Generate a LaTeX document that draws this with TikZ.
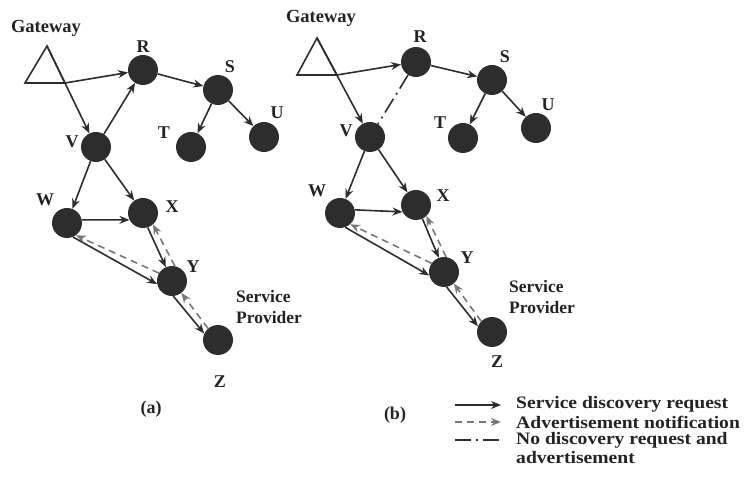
\documentclass[tikz,border=0pt]{standalone}
\usepackage{fontspec}
\setmainfont{Liberation Serif}
\newfontfamily\legfont[FakeStretch=1.12]{Liberation Serif}
\usetikzlibrary{arrows.meta}
\definecolor{nodegray}{RGB}{45,45,45}
\definecolor{linegray}{RGB}{45,45,45}
\definecolor{dashgray}{RGB}{120,120,120}
\definecolor{labelgray}{RGB}{35,35,35}
\begin{document}
\begin{tikzpicture}[x=1pt,y=-1pt,
  vtx/.style={circle,fill=nodegray,minimum size=30pt,inner sep=0pt},
  lbl/.style={font=\bfseries\fontsize{18}{20}\selectfont,text=labelgray,inner sep=0pt},
  leg/.style={font=\legfont\bfseries\fontsize{17.5}{18}\selectfont,text=labelgray,inner sep=0pt,anchor=west},
  req/.style={draw=linegray,line width=1.6pt,-{Stealth[length=10pt,width=8pt]}},
  adv/.style={draw=dashgray,line width=1.6pt,dash pattern=on 7pt off 5pt,-{Stealth[length=10pt,width=8pt]}},
  nodisc/.style={draw=linegray,line width=1.6pt,dash pattern=on 16pt off 5pt on 2pt off 5pt},
  gw/.style={draw=linegray,line width=1.6pt,line join=miter},
]
\useasboundingbox (0,0) rectangle (745,486);

% ---------------- panel (a) ----------------
\coordinate (ga1) at (47,46);
\coordinate (gl1) at (25,83);
\coordinate (gr1) at (65,83);
\draw[gw] (ga1) -- (gl1) -- (gr1) -- cycle;
\node[vtx] (R1) at (143,70) {};
\node[vtx] (S1) at (218,90) {};
\node[vtx] (T1) at (191,147) {};
\node[vtx] (U1) at (264,137) {};
\node[vtx] (V1) at (96,147) {};
\node[vtx] (W1) at (67,223) {};
\node[vtx] (X1) at (143,213) {};
\node[vtx] (Y1) at (172,281) {};
\node[vtx] (Z1) at (218,340) {};

\node[lbl,font=\bfseries\fontsize{18.5}{20}\selectfont] (gwa) at (46,28) {Gateway};
\node[lbl] (lR1) at (143,47) {R};
\node[lbl] (lS1) at (230,67) {S};
\node[lbl] (lT1) at (164,133) {T};
\node[lbl] (lU1) at (277,113) {U};
\node[lbl] (lV1) at (72,142) {V};
\node[lbl] (lW1) at (45,200) {W};
\node[lbl] (lX1) at (172,207) {X};
\node[lbl] (lY1) at (193,267) {Y};
\node[lbl] (lZ1) at (220,382) {Z};
\node[lbl,align=left,anchor=west,font=\bfseries\fontsize{17.5}{21}\selectfont] (sp1) at (236,307) {Service\\Provider};
\node[lbl] (cap1) at (151,409) {(a)};

\draw[req] (ga1) -- (V1);
\draw[req] (gr1) -- (R1);
\draw[req] (V1) -- (R1);
\draw[req] (R1) -- (S1);
\draw[req] (S1) -- (T1);
\draw[req] (S1) -- (U1);
\draw[req] (V1) -- (W1);
\draw[req] (V1) -- (X1);
\draw[req] (W1.12) -- (X1.207);
\draw[req] (W1.-67) -- (Y1.192);
\draw[adv] (Y1.149) -- (W1.-54);
\draw[req] (X1.-72) -- (Y1.114);
\draw[adv] (Y1.79) -- (X1.-49);
\draw[req] (Y1.-85) -- (Z1.155);
\draw[adv] (Z1.131) -- (Y1.-52);

% ---------------- panel (b) ----------------
\coordinate (ga2) at (317,38);
\coordinate (gl2) at (297,75);
\coordinate (gr2) at (337,75);
\draw[gw] (ga2) -- (gl2) -- (gr2) -- cycle;
\node[vtx] (R2) at (416,62) {};
\node[vtx] (S2) at (492,80) {};
\node[vtx] (T2) at (463,138) {};
\node[vtx] (U2) at (536,128) {};
\node[vtx] (V2) at (370,137) {};
\node[vtx] (W2) at (340,213) {};
\node[vtx] (X2) at (416,205) {};
\node[vtx] (Y2) at (444,272) {};
\node[vtx] (Z2) at (492,332) {};

\node[lbl,font=\bfseries\fontsize{18.5}{20}\selectfont] (gwb) at (321,18) {Gateway};
\node[lbl] (lR2) at (420,37) {R};
\node[lbl] (lS2) at (505,57) {S};
\node[lbl] (lT2) at (440,123) {T};
\node[lbl] (lU2) at (548,105) {U};
\node[lbl] (lV2) at (346,131) {V};
\node[lbl] (lW2) at (317,191) {W};
\node[lbl] (lX2) at (443,196) {X};
\node[lbl] (lY2) at (467,258) {Y};
\node[lbl] (lZ2) at (497,362) {Z};
\node[lbl,align=left,anchor=west,font=\bfseries\fontsize{17.5}{21}\selectfont] (sp2) at (509,297) {Service\\Provider};
\node[lbl] (cap2) at (395,415) {(b)};

\draw[req] (ga2) -- (V2);
\draw[req] (gr2) -- (R2);
\draw[nodisc] (R2) -- (V2);
\draw[req] (R2) -- (S2);
\draw[req] (S2) -- (T2);
\draw[req] (S2) -- (U2);
\draw[req] (V2) -- (W2);
\draw[req] (V2) -- (X2);
\draw[req] (W2.12) -- (X2.207);
\draw[req] (W2.-70) -- (Y2.193);
\draw[adv] (Y2.145) -- (W2.-48);
\draw[req] (X2.-65) -- (Y2.110);
\draw[adv] (Y2.82) -- (X2.-47);
\draw[req] (Y2.-80) -- (Z2.158);
\draw[adv] (Z2.135) -- (Y2.-50);

% ---------------- legend ----------------
\coordinate (la1) at (455,405); \coordinate (lb1) at (501,405);
\coordinate (la2) at (455,422); \coordinate (lb2) at (501,422);
\coordinate (la3) at (455,440); \coordinate (lb3) at (501,440);
\draw[req] (la1) -- (lb1);
\draw[adv] (la2) -- (lb2);
\draw[nodisc] (la3) -- (lb3);
\node[leg] (t1) at (516,404) {Service discovery request};
\node[leg] (t2) at (516,422) {Advertisement notification};
\node[leg] (t3) at (516,440) {No discovery request and};
\node[leg] (t4) at (516,458) {advertisement};
\end{tikzpicture}
\end{document}
